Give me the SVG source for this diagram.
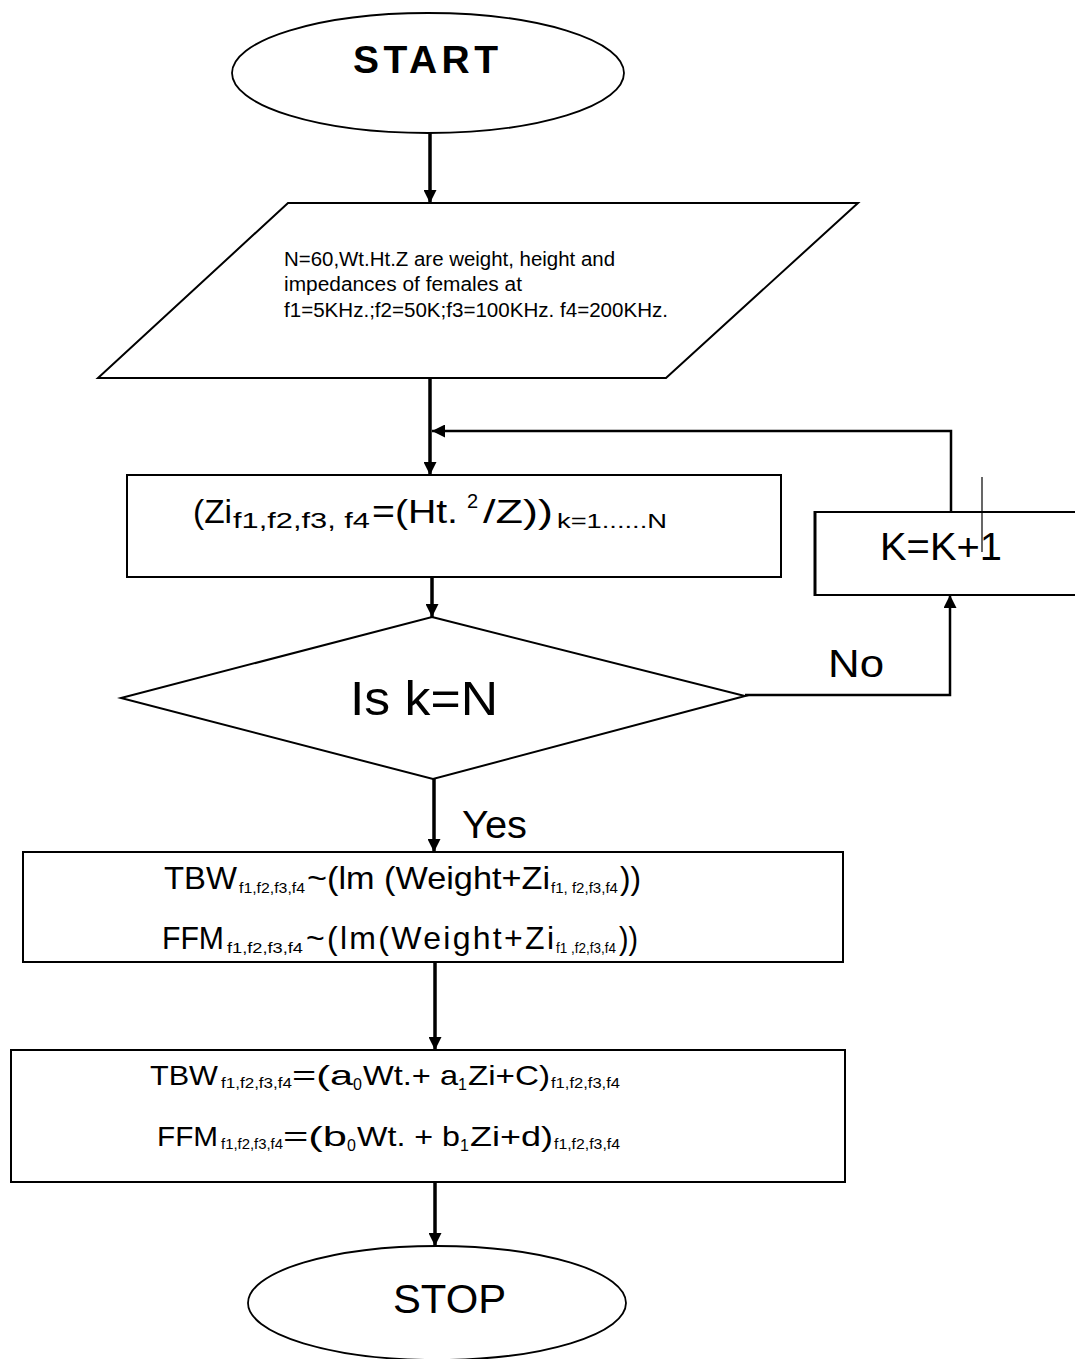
<svg xmlns="http://www.w3.org/2000/svg" width="1075" height="1359" viewBox="0 0 1075 1359">
<defs>
<style>
.shape{fill:#fff;stroke:#000;stroke-width:2}
.term{fill:#fff;stroke:#000;stroke-width:1.8}
.conn{fill:none;stroke:#000;stroke-width:3.5}
.thin{fill:none;stroke:#000;stroke-width:2.5}
text{font-family:"Liberation Sans",Arial,sans-serif;fill:#000}
.sub{font-size:14px}
</style>
<marker id="ah" viewBox="0 0 10 10" refX="10" refY="5" markerWidth="13" markerHeight="13" markerUnits="userSpaceOnUse" orient="auto">
<path d="M0,0 L10,5 L0,10 z" fill="#000"/>
</marker>
</defs>
<rect width="1075" height="1359" fill="#fff"/>

<g id="connectors">
<path class="conn" d="M430,133 L430,203" marker-end="url(#ah)"/>
<path class="conn" d="M430,378 L430,475" marker-end="url(#ah)"/>
<path class="thin" d="M951,512 L951,431 L432,431" marker-end="url(#ah)"/>
<path class="conn" d="M432,577 L432,617" marker-end="url(#ah)"/>
<path class="thin" d="M745,695 L950,695 L950,595" marker-end="url(#ah)"/>
<path class="conn" d="M434,779 L434,852" marker-end="url(#ah)"/>
<path class="conn" d="M435,962 L435,1050" marker-end="url(#ah)"/>
<path class="conn" d="M435,1182 L435,1246" marker-end="url(#ah)"/>
</g>

<g id="start">
<ellipse class="term" cx="428" cy="73" rx="196" ry="60"/>
<text x="353" y="73" font-size="39" font-weight="bold" textLength="145" lengthAdjust="spacing">START</text>
</g>

<g id="input">
<polygon class="shape" points="288,203 858,203 666,378 98,378"/>
<text x="284" y="266" font-size="20" textLength="331" lengthAdjust="spacingAndGlyphs">N=60,Wt.Ht.Z are weight, height and</text>
<text x="284" y="291" font-size="20" textLength="238" lengthAdjust="spacingAndGlyphs">impedances of females at</text>
<text x="284" y="317" font-size="20" textLength="384" lengthAdjust="spacingAndGlyphs">f1=5KHz.;f2=50K;f3=100KHz. f4=200KHz.</text>
</g>

<g id="compute">
<rect class="shape" x="127" y="475" width="654" height="102"/>
<text y="523" font-size="33"><tspan x="193" textLength="39" lengthAdjust="spacingAndGlyphs">(Zi</tspan><tspan x="233" y="528" font-size="22" textLength="137" lengthAdjust="spacingAndGlyphs">f1,f2,f3, f4</tspan><tspan x="372" y="523" textLength="86" lengthAdjust="spacingAndGlyphs">=(Ht.</tspan><tspan x="467" y="508" font-size="20">2</tspan><tspan x="483" y="523" textLength="70" lengthAdjust="spacingAndGlyphs">/Z))</tspan><tspan x="557" y="528" font-size="20" textLength="110" lengthAdjust="spacingAndGlyphs">k=1......N</tspan></text>
</g>

<g id="increment">
<path class="shape" d="M1080,512 L815,512 L815,595 L1080,595"/>
<line x1="815" y1="511" x2="815" y2="596" stroke="#000" stroke-width="3"/>
<text x="880" y="560" font-size="39" textLength="122" lengthAdjust="spacingAndGlyphs">K=K+1</text>
<line x1="982" y1="477" x2="982" y2="552" stroke="#000" stroke-width="1.2"/>
</g>

<g id="decision">
<polygon class="shape" points="432,617 745,696 433,779 121,698"/>
<text x="350" y="715" font-size="48" textLength="148" lengthAdjust="spacingAndGlyphs">Is k=N</text>
</g>

<text x="828" y="677" font-size="39" textLength="56" lengthAdjust="spacingAndGlyphs">No</text>
<text x="462" y="838" font-size="39" textLength="65" lengthAdjust="spacingAndGlyphs">Yes</text>

<g id="regression">
<rect class="shape" x="23" y="852" width="820" height="110"/>
<text y="889" font-size="32"><tspan x="164" textLength="73" lengthAdjust="spacingAndGlyphs">TBW</tspan><tspan class="sub" x="239" y="893" textLength="66" lengthAdjust="spacingAndGlyphs">f1,f2,f3,f4</tspan><tspan x="307" y="889" textLength="243" lengthAdjust="spacingAndGlyphs">~(lm (Weight+Zi</tspan><tspan class="sub" x="551" y="893" textLength="67" lengthAdjust="spacingAndGlyphs">f1, f2,f3,f4</tspan><tspan x="620" y="889" textLength="21" lengthAdjust="spacingAndGlyphs">))</tspan></text>
<text y="949" font-size="32"><tspan x="162" textLength="62" lengthAdjust="spacingAndGlyphs">FFM</tspan><tspan class="sub" x="227" y="953" textLength="76" lengthAdjust="spacingAndGlyphs">f1,f2,f3,f4</tspan><tspan x="306" y="949" textLength="248" lengthAdjust="spacing">~(lm(Weight+Zi</tspan><tspan class="sub" x="556" y="953" textLength="60" lengthAdjust="spacingAndGlyphs">f1 ,f2,f3,f4</tspan><tspan x="619" y="949" textLength="19" lengthAdjust="spacingAndGlyphs">))</tspan></text>
</g>

<g id="equations">
<rect class="shape" x="11" y="1050" width="834" height="132"/>
<text y="1085" font-size="28"><tspan x="150" textLength="68" lengthAdjust="spacingAndGlyphs">TBW</tspan><tspan class="sub" x="221" y="1088" textLength="71" lengthAdjust="spacingAndGlyphs">f1,f2,f3,f4</tspan><tspan x="292" y="1085" textLength="61" lengthAdjust="spacingAndGlyphs">=(a</tspan><tspan x="353" y="1090" font-size="16">0</tspan><tspan x="363" y="1085" textLength="95" lengthAdjust="spacingAndGlyphs">Wt.+ a</tspan><tspan x="458" y="1090" font-size="16">1</tspan><tspan x="468" y="1085" textLength="82" lengthAdjust="spacingAndGlyphs">Zi+C)</tspan><tspan class="sub" x="551" y="1088" textLength="69" lengthAdjust="spacingAndGlyphs">f1,f2,f3,f4</tspan></text>
<text y="1146" font-size="28"><tspan x="157" textLength="61" lengthAdjust="spacingAndGlyphs">FFM</tspan><tspan class="sub" x="221" y="1149" textLength="62" lengthAdjust="spacingAndGlyphs">f1,f2,f3,f4</tspan><tspan x="283" y="1146" textLength="64" lengthAdjust="spacingAndGlyphs">=(b</tspan><tspan x="347" y="1151" font-size="16">0</tspan><tspan x="357" y="1146" textLength="103" lengthAdjust="spacingAndGlyphs">Wt. + b</tspan><tspan x="460" y="1151" font-size="16">1</tspan><tspan x="470" y="1146" textLength="83" lengthAdjust="spacingAndGlyphs">Zi+d)</tspan><tspan class="sub" x="554" y="1149" textLength="66" lengthAdjust="spacingAndGlyphs">f1,f2,f3,f4</tspan></text>
</g>

<g id="stop">
<ellipse class="term" cx="437" cy="1303" rx="189" ry="57"/>
<text x="393" y="1313" font-size="40" textLength="113" lengthAdjust="spacingAndGlyphs">STOP</text>
</g>
</svg>
